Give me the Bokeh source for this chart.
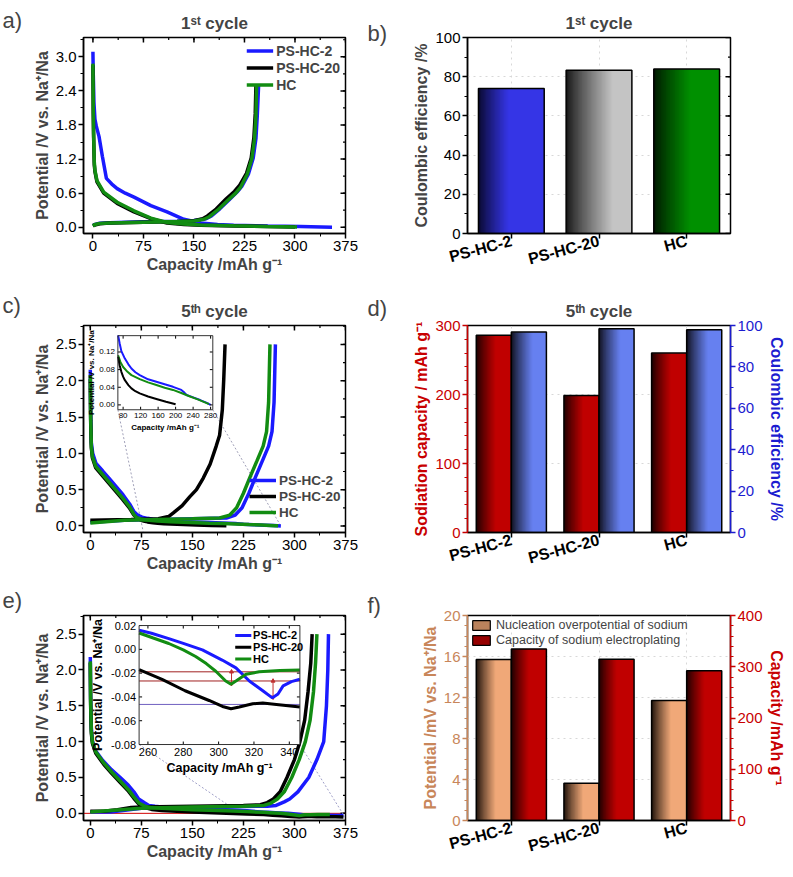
import numpy as np
from bokeh.plotting import figure
from bokeh.layouts import gridplot
from bokeh.models import (Range1d, LinearAxis, FixedTicker, SingleIntervalTicker, Label,
                          Legend, LegendItem, Span, PrintfTickFormatter)
from bokeh.core.properties import value
from bokeh.embed import file_html
from bokeh.resources import INLINE

FONT = "Liberation Sans"
BLUE = "#1a1aff"
BLACK = "#000000"
GREEN = "#128c12"

# ------------------------------------------------------------------ data
samples = ["PS-HC-2", "PS-HC-20", "HC"]
sample_pos = [1, 2, 3]

# a) 1st cycle curves
a_blue_dis_x = [0, 0.5, 1.5, 3, 5, 9, 14, 20, 28, 36, 48, 61, 86, 110, 135, 160, 185, 209, 260, 308, 355]
a_blue_dis_y = [3.09, 2.7, 2.2, 1.9, 1.78, 1.6, 1.25, 0.86, 0.76, 0.68, 0.6, 0.53, 0.38, 0.27, 0.14, 0.075, 0.05, 0.036, 0.022, 0.012, 0.002]
a_black_dis_x = [0, 0.5, 1, 2, 3, 6, 16, 36, 61, 86, 110, 135, 160, 209, 259, 300]
a_black_dis_y = [2.85, 2.0, 1.6, 1.1, 0.98, 0.8, 0.6, 0.42, 0.27, 0.15, 0.075, 0.05, 0.035, 0.024, 0.012, 0.005]
a_green_dis_x = [0, 0.5, 1, 2, 3, 6, 16, 36, 61, 86, 110, 135, 160, 209, 259, 303]
a_green_dis_y = [2.88, 2.1, 1.65, 1.15, 1.0, 0.82, 0.62, 0.44, 0.29, 0.16, 0.085, 0.055, 0.04, 0.026, 0.014, 0.006]
a_blue_ch_x = [0, 3, 10, 25, 75, 125, 150, 168, 176, 188, 202, 214, 221, 231, 238, 242, 244, 246]
a_blue_ch_y = [0.03, 0.05, 0.07, 0.08, 0.095, 0.105, 0.12, 0.15, 0.2, 0.32, 0.48, 0.62, 0.72, 0.94, 1.22, 1.56, 1.96, 2.5]
a_black_ch_x = [0, 10, 25, 75, 125, 150, 163, 170, 183, 198, 210, 218, 228, 235, 239, 241, 242]
a_black_ch_y = [0.03, 0.06, 0.075, 0.09, 0.1, 0.115, 0.15, 0.2, 0.32, 0.5, 0.63, 0.74, 0.95, 1.22, 1.58, 2.0, 2.5]
a_green_ch_x = [0, 3, 10, 25, 75, 125, 150, 165, 172, 185, 200, 212, 219, 229, 236, 240, 242, 243]
a_green_ch_y = [0.02, 0.05, 0.065, 0.075, 0.09, 0.1, 0.11, 0.14, 0.18, 0.3, 0.47, 0.6, 0.7, 0.93, 1.21, 1.56, 1.96, 2.5]

# b) 1st cycle coulombic efficiency (%)
b_ce = [74.0, 83.3, 83.9]

# c) 5th cycle curves (main part of discharge, then inset part)
c_blue_dis_x = [0, 0.5, 1.5, 3.5, 8.4, 18, 28, 38, 48, 58, 64]
c_blue_dis_y = [2.15, 1.6, 1.15, 1.0, 0.86, 0.76, 0.65, 0.54, 0.43, 0.3, 0.2]
c_green_dis_x = [0, 0.5, 1.5, 3, 8, 18, 28, 38, 48, 58, 64]
c_green_dis_y = [2.08, 1.5, 1.1, 0.96, 0.82, 0.71, 0.6, 0.49, 0.38, 0.26, 0.16]
c_black_dis_x = [0, 0.5, 1.5, 3, 8, 18, 28, 38, 48, 58, 64]
c_black_dis_y = [2.02, 1.45, 1.08, 0.94, 0.8, 0.69, 0.58, 0.47, 0.36, 0.24, 0.15]
ci_blue_x = [68.5, 72, 76, 84, 92, 99, 108, 118, 137, 156, 175, 194, 213, 220, 225, 240, 256, 270, 280]
ci_blue_y = [0.158, 0.14, 0.122, 0.105, 0.092, 0.0825, 0.074, 0.0675, 0.058, 0.0525, 0.047, 0.041, 0.034, 0.028, 0.0225, 0.017, 0.011, 0.005, 0.0]
ci_green_x = [68.5, 74, 80, 90, 99, 118, 137, 156, 175, 194, 213, 233, 252, 271, 276]
ci_green_y = [0.1125, 0.097, 0.086, 0.075, 0.0675, 0.0585, 0.051, 0.045, 0.039, 0.034, 0.027, 0.019, 0.012, 0.004, 0.002]
ci_black_x = [68.5, 72, 76, 80, 84, 92, 99, 108, 118, 137, 156, 178, 200]
ci_black_y = [0.109, 0.09, 0.075, 0.064, 0.056, 0.045, 0.0375, 0.031, 0.026, 0.019, 0.0135, 0.007, 0.0015]
c_blue_ch_x = [0, 50, 100, 150, 200, 213, 223, 233, 243, 253, 262, 267, 270, 272]
c_blue_ch_y = [0.05, 0.08, 0.09, 0.1, 0.11, 0.15, 0.25, 0.45, 0.68, 0.9, 1.1, 1.3, 1.7, 2.5]
c_green_ch_x = [0, 50, 100, 150, 190, 205, 215, 225, 235, 245, 254, 259, 262, 264]
c_green_ch_y = [0.04, 0.08, 0.09, 0.1, 0.11, 0.15, 0.25, 0.45, 0.68, 0.9, 1.1, 1.3, 1.7, 2.5]
c_black_ch_x = [0, 60, 100, 115, 122, 135, 146, 156, 166, 176, 185, 190, 194, 196, 198]
c_black_ch_y = [0.08, 0.09, 0.1, 0.13, 0.18, 0.28, 0.4, 0.5, 0.66, 0.85, 1.1, 1.25, 1.6, 2.0, 2.5]

# d) 5th cycle bars
d_capacity = [285.7, 198.6, 260.0]
d_ce = [96.8, 98.4, 97.9]

# e) sodium plating curves (main part, then inset part, then tail)
e_blue_dis_x = [0, 0.5, 1.5, 3, 6.4, 18, 31, 44, 56, 64, 71, 79, 86, 95, 105, 150, 200, 230]
e_blue_dis_y = [2.18, 1.6, 1.2, 1.02, 0.89, 0.74, 0.61, 0.5, 0.39, 0.3, 0.2, 0.15, 0.11, 0.1, 0.09, 0.07, 0.05, 0.035]
e_green_dis_x = [0, 0.5, 1.5, 3, 8, 20, 32, 44, 56, 64, 72, 80, 90, 105, 150, 200, 230]
e_green_dis_y = [2.12, 1.55, 1.15, 1.0, 0.86, 0.7, 0.57, 0.45, 0.33, 0.23, 0.14, 0.1, 0.08, 0.07, 0.05, 0.035, 0.025]
e_black_dis_x = [0, 0.5, 1.5, 3, 8, 20, 32, 44, 56, 64, 72, 80, 90, 105, 150, 200, 230]
e_black_dis_y = [2.1, 1.5, 1.12, 0.98, 0.84, 0.68, 0.55, 0.43, 0.31, 0.21, 0.12, 0.08, 0.055, 0.04, 0.02, 0.0, -0.008]
ei_blue_x = [255, 262, 271.8, 280, 290.8, 302, 309.8, 317.4, 325, 330.4, 333.6, 336.5, 341.2, 346]
ei_blue_y = [0.016, 0.0135, 0.009, 0.005, -0.0005, -0.009, -0.0156, -0.0266, -0.0348, -0.0408, -0.0375, -0.0307, -0.0271, -0.0252]
ei_green_x = [255, 263, 271.8, 280, 287, 293, 298.4, 304, 307, 309.8, 315.5, 323, 334.6, 346]
ei_green_y = [0.0137, 0.0095, 0.0049, -0.0005, -0.006, -0.012, -0.0184, -0.0266, -0.0293, -0.0266, -0.021, -0.0189, -0.0178, -0.0173]
ei_black_x = [255, 268, 281, 294.6, 302.2, 307, 311.7, 319.3, 325, 332.7, 346]
ei_black_y = [-0.017, -0.0252, -0.0348, -0.043, -0.048, -0.0499, -0.0485, -0.0458, -0.0452, -0.0463, -0.0485]
e_blue_tail_x = [360, 372]
e_blue_tail_y = [-0.029, -0.031]
e_green_tail_x = [352]
e_green_tail_y = [-0.0172]
e_black_tail_x = [360, 372]
e_black_tail_y = [-0.049, -0.05]
e_blue_ch_x = [0, 30, 75, 150, 225, 260, 273, 285, 293, 305, 321, 333, 343, 347, 349, 350]
e_blue_ch_y = [0.02, 0.02, 0.07, 0.085, 0.095, 0.1, 0.11, 0.16, 0.2, 0.3, 0.5, 0.75, 1.0, 1.5, 2.0, 2.5]
e_black_ch_x = [0, 20, 40, 60, 75, 150, 225, 250, 260, 269, 279, 289, 300, 308, 315, 320, 324, 326]
e_black_ch_y = [0.03, 0.03, 0.05, 0.08, 0.09, 0.1, 0.11, 0.12, 0.15, 0.2, 0.3, 0.5, 0.75, 1.0, 1.3, 1.7, 2.1, 2.5]
e_green_ch_x = [0, 75, 150, 225, 255, 265, 275, 285, 296, 307, 316, 323, 328, 331, 333]
e_green_ch_y = [0.02, 0.07, 0.09, 0.1, 0.11, 0.14, 0.2, 0.3, 0.5, 0.75, 1.0, 1.3, 1.7, 2.1, 2.5]
# nucleation-overpotential reference levels and minima in the e) inset
ei_levels = [-0.0189, -0.0266, -0.0463]
ei_level_colors = ["#a02020", "#a02020", "#7060c0"]
ei_arrow_x = [307.3, 330.8]
ei_arrow_top = [-0.0189, -0.0266]
ei_arrow_bottom = [-0.0288, -0.0403]

# f) bars
f_overpot = [15.7, 3.64, 11.7]
f_plating = [334.8, 314.6, 292.4]

# ------------------------------------------------------------------ helpers
def style_axes(p, fs="15px"):
    for ax in p.axis:
        ax.major_label_text_font = FONT
        ax.major_label_text_font_size = fs
        ax.major_label_text_color = "black"
        ax.axis_label_text_font = FONT
        ax.axis_label_text_font_size = "16px"
        ax.axis_label_text_font_style = "bold"
        ax.axis_line_width = 1.5
        ax.major_tick_line_width = 1.5
        ax.major_tick_out = 5
        ax.major_tick_in = 0
        ax.minor_tick_out = 3
        ax.minor_tick_in = 0
        ax.axis_label_standoff = 2
        ax.major_label_standoff = 2
    p.outline_line_color = "black"
    p.outline_line_width = 1.5


def mirror_ticks(p, xr, yr, xint, yint, xminor, yminor, y_range_name="default", top=True):
    xs = list(np.arange(0, xr[1] + 1e-9, xint)) if top else []
    xm = [v for v in np.arange(0, xr[1] + 1e-9, xint / xminor)] if top else []
    ys = list(np.arange(0, yr[1] + 1e-9, yint))
    ym = list(np.arange(0, yr[1] + 1e-9, yint / yminor))
    if top:
        p.ray(x=xm, y=[yr[1]] * len(xm), length=2.5, length_units="screen", angle=-np.pi / 2,
              line_color="black", line_width=1.2, y_range_name=y_range_name)
        p.ray(x=xs, y=[yr[1]] * len(xs), length=5, length_units="screen", angle=-np.pi / 2,
              line_color="black", line_width=1.5, y_range_name=y_range_name)
    p.ray(x=[xr[1]] * len(ym), y=ym, length=2.5, length_units="screen", angle=np.pi,
          line_color="black", line_width=1.2, y_range_name=y_range_name)
    p.ray(x=[xr[1]] * len(ys), y=ys, length=5, length_units="screen", angle=np.pi,
          line_color="black", line_width=1.5, y_range_name=y_range_name)


def panel_label(p, text, dx, dy):
    # placed in the left side panel so that it is not clipped to the frame
    p.add_layout(Label(x=p.x_range.start, y=p.y_range.end, x_offset=dx, y_offset=dy,
                       text=text, text_font=FONT, text_font_size="22px",
                       text_baseline="middle", text_align="left"), "left")


def title(p, text):
    p.title.text = text
    p.title.align = "center"
    p.title.text_font = FONT
    p.title.text_font_size = "17px"
    p.title.text_font_style = "bold"


def hex2rgb(h):
    return tuple(int(h[i:i + 2], 16) for i in (1, 3, 5))


def grad_image(c_dark, c_light, ramp, n=80):
    d = hex2rgb(c_dark)
    l = hex2rgb(c_light)
    img = np.empty((1, n), dtype=np.uint32)
    view = img.view(dtype=np.uint8).reshape((1, n, 4))
    for k in range(n):
        t = (k + 0.5) / n
        f = min(1.0, t / ramp) ** 0.85
        view[0, k, 0:3] = [int(round(a + (b - a) * f)) for a, b in zip(d, l)]
        view[0, k, 3] = 255
    return img


def mid_color(c_dark, c_light, f):
    d = hex2rgb(c_dark)
    l = hex2rgb(c_light)
    return "#%02x%02x%02x" % tuple(int(round(a + (b - a) * f)) for a, b in zip(d, l))


def grad_bars(p, xs, tops, width, c_dark, c_light, ramp, y_range_name="default"):
    img = grad_image(c_dark, c_light, ramp)
    p.image_rgba(image=[img] * len(xs), x=[x - width / 2 for x in xs], y=[0] * len(xs),
                 dw=[width] * len(xs), dh=tops, y_range_name=y_range_name)
    outline = p.vbar(x=xs, top=tops, bottom=0, width=width, fill_color=None,
                     line_color="black", line_width=1.5, y_range_name=y_range_name)
    swatch = p.vbar(x=xs, top=[0] * len(xs), bottom=0, width=width,
                    fill_color=mid_color(c_dark, c_light, 0.75), line_color="black",
                    line_width=1.2, y_range_name=y_range_name)
    return swatch, outline


def bar_fig(w, h, yr, borders):
    p = figure(width=w, height=h, x_range=Range1d(0.5, 3.5), y_range=Range1d(*yr),
               output_backend="svg", toolbar_location=None,
               min_border_left=borders[0], min_border_right=borders[1],
               min_border_top=borders[2], min_border_bottom=borders[3])
    p.xaxis.ticker = FixedTicker(ticks=sample_pos)
    p.xaxis.major_label_overrides = {x: s for x, s in zip(sample_pos, samples)}
    p.xaxis.major_label_orientation = 0.26
    p.xgrid.grid_line_color = "#d8d8d8"
    p.xgrid.grid_line_dash = "dotted"
    p.ygrid.grid_line_color = "#d8d8d8"
    p.ygrid.grid_line_dash = "dotted"
    return p


def curve_fig(w, h, xr, yr, yint, borders):
    p = figure(width=w, height=h, x_range=Range1d(*xr), y_range=Range1d(*yr),
               output_backend="svg", toolbar_location=None,
               min_border_left=borders[0], min_border_right=borders[1],
               min_border_top=borders[2], min_border_bottom=borders[3])
    p.xaxis.ticker = SingleIntervalTicker(interval=75, num_minor_ticks=2)
    p.yaxis.ticker = SingleIntervalTicker(interval=yint, num_minor_ticks=2)
    p.yaxis.formatter = PrintfTickFormatter(format="%.1f")
    p.xgrid.visible = False
    p.ygrid.visible = False
    p.xaxis.axis_label = "Capacity /mAh g\u207b\u00b9"
    p.yaxis.axis_label = "Potential /V vs. Na\u207a/Na"
    mirror_ticks(p, xr, yr, 75, yint, 2, 2)
    return p


def add_inset(p, xsrc, ysrc, xtgt, ytgt, xticks, yticks, xfmt, yfmt, tick_fs, lab_fs,
              series, lw, ylab_off, xlab_off, extra=None):
    p.quad(left=[xtgt[0]], right=[xtgt[1]], bottom=[ytgt[0]], top=[ytgt[1]],
           fill_color="white", line_color=None)
    sub = p.subplot(x_source=Range1d(*xsrc), y_source=Range1d(*ysrc),
                    x_target=Range1d(*xtgt), y_target=Range1d(*ytgt))
    if extra is not None:
        extra(sub)
    rends = [sub.line(x, y, line_color=c, line_width=lw) for x, y, c in series]
    nx, ny = len(xticks), len(yticks)
    sub.ray(x=xticks, y=[ysrc[0]] * nx, length=3, length_units="screen", angle=np.pi / 2, line_color="black")
    sub.ray(x=xticks, y=[ysrc[1]] * nx, length=3, length_units="screen", angle=-np.pi / 2, line_color="black")
    sub.ray(x=[xsrc[0]] * ny, y=yticks, length=3, length_units="screen", angle=0, line_color="black")
    sub.ray(x=[xsrc[1]] * ny, y=yticks, length=3, length_units="screen", angle=np.pi, line_color="black")
    sub.text(x=xticks, y=[ysrc[0]] * nx, text=[xfmt.format(v) for v in xticks], y_offset=3,
             text_align="center", text_baseline="top", text_font=value(FONT),
             text_font_size=tick_fs, text_color="black")
    sub.text(x=[xsrc[0]] * ny, y=yticks, text=[yfmt.format(v) for v in yticks], x_offset=-3,
             text_align="right", text_baseline="middle", text_font=value(FONT),
             text_font_size=tick_fs, text_color="black")
    sub.text(x=[(xsrc[0] + xsrc[1]) / 2], y=[ysrc[0]], text=["Capacity /mAh g\u207b\u00b9"],
             y_offset=xlab_off, text_align="center", text_baseline="top", text_font=value(FONT),
             text_font_size=lab_fs, text_font_style="bold", text_color="black")
    sub.text(x=[xsrc[0]], y=[(ysrc[0] + ysrc[1]) / 2], text=["Potential /V vs. Na\u207a/Na"],
             x_offset=-ylab_off, angle=np.pi / 2, text_align="center", text_baseline="bottom",
             text_font=value(FONT), text_font_size=lab_fs, text_font_style="bold", text_color="black")
    p.quad(left=[xtgt[0]], right=[xtgt[1]], bottom=[ytgt[0]], top=[ytgt[1]],
           fill_color=None, line_color="#333333", line_width=1)
    return sub, rends


def curve_legend(p, rends, loc, fs, gw, gh, margin=0, labels=("PS-HC-2", "PS-HC-20", "HC")):
    items = [LegendItem(label=t, renderers=[r]) for t, r in zip(labels, rends)]
    lg = Legend(items=items, location=loc, border_line_color=None, background_fill_alpha=0,
                label_text_font=FONT, label_text_font_size=fs, label_text_font_style="bold",
                glyph_width=gw, glyph_height=gh, label_height=gh, spacing=0, padding=2,
                margin=margin, label_standoff=3)
    p.add_layout(lg)
    return lg


W1, W2 = 365, 427
H1, H2, H3 = 290, 298, 288
LEFT_L, LEFT_R = 83, 20
RIGHT_L, RIGHT_R = 102, 62

# ------------------------------------------------------------------ a)
a_xr, a_yr = (-14, 375), (-0.11, 3.34)
pa = curve_fig(W1, H1, a_xr, a_yr, 0.6, (LEFT_L, LEFT_R, 37, 53))
title(pa, "1\u02e2\u1d57 cycle")
ra = []
for xd, yd, xc, yc, col in [(a_blue_dis_x, a_blue_dis_y, a_blue_ch_x, a_blue_ch_y, BLUE),
                            (a_black_dis_x, a_black_dis_y, a_black_ch_x, a_black_ch_y, BLACK),
                            (a_green_dis_x, a_green_dis_y, a_green_ch_x, a_green_ch_y, GREEN)]:
    r = pa.line(xd, yd, line_color=col, line_width=3.5)
    pa.line(xc, yc, line_color=col, line_width=3.5)
    ra.append(r)
style_axes(pa)
curve_legend(pa, ra, "top_right", "14px", 27, 17, margin=5)
panel_label(pa, "a)", -LEFT_L + 2, 17)

# ------------------------------------------------------------------ b)
pb = bar_fig(W2, H1, (0, 100), (RIGHT_L, RIGHT_R, 24, 57))
title(pb, "1\u02e2\u1d57 cycle")
pb.yaxis.ticker = SingleIntervalTicker(interval=20, num_minor_ticks=2)
pb.yaxis.axis_label = "Coulombic efficiency /%"
grad_bars(pb, [sample_pos[0]], [b_ce[0]], 0.75, "#08082a", "#3535e6", 0.45)
grad_bars(pb, [sample_pos[1]], [b_ce[1]], 0.75, "#141414", "#c4c4c4", 0.7)
grad_bars(pb, [sample_pos[2]], [b_ce[2]], 0.75, "#001400", "#009000", 0.55)
mirror_ticks(pb, (0.5, 3.5), (0, 100), 1, 20, 1, 2, top=False)
style_axes(pb)
pb.xaxis.major_label_text_font_style = "bold"
pb.xaxis.major_label_text_font_size = "16px"
panel_label(pb, "b)", -RIGHT_L + 2, 4)

# ------------------------------------------------------------------ c)
c_xr, c_yr = (-10, 375), (-0.09, 2.76)
pc = curve_fig(W1, H2, c_xr, c_yr, 0.5, (LEFT_L, LEFT_R, 35, 53))
title(pc, "5\u1d57\u02b0 cycle")
c_inset_src_x, c_inset_src_y = (68, 285), (-0.011, 0.157)
c_inset_tgt_x, c_inset_tgt_y = (40.5, 180), (1.60, 2.62)
pc.segment(x0=[c_inset_tgt_x[0], c_inset_tgt_x[1]], y0=[c_inset_tgt_y[0]] * 2,
           x1=[78, 280], y1=[-0.09, 0.0], line_color="#a0a0b8", line_dash="2 2", line_width=1)
rc = []
for xd, yd, xi, yi, xc, yc, col in [
        (c_blue_dis_x, c_blue_dis_y, ci_blue_x, ci_blue_y, c_blue_ch_x, c_blue_ch_y, BLUE),
        (c_black_dis_x, c_black_dis_y, ci_black_x, ci_black_y, c_black_ch_x, c_black_ch_y, BLACK),
        (c_green_dis_x, c_green_dis_y, ci_green_x, ci_green_y, c_green_ch_x, c_green_ch_y, GREEN)]:
    pc.line(xd + xi, yd + yi, line_color=col, line_width=3.5)
    r = pc.line(xc, yc, line_color=col, line_width=3.5)
    rc.append(r)
add_inset(pc, c_inset_src_x, c_inset_src_y, c_inset_tgt_x, c_inset_tgt_y,
          [80, 120, 160, 200, 240, 280], [0.0, 0.04, 0.08, 0.12], "{:.0f}", "{:.2f}",
          "8px", "8px",
          [(ci_blue_x, ci_blue_y, BLUE), (ci_green_x, ci_green_y, GREEN), (ci_black_x, ci_black_y, BLACK)],
          2, 22, 13)
style_axes(pc)
curve_legend(pc, rc, (166, 12), "13.5px", 27, 16)
panel_label(pc, "c)", -LEFT_L + 2, 20)

# ------------------------------------------------------------------ d)
pd_ = bar_fig(W2, H2, (0, 300), (RIGHT_L, RIGHT_R, 32, 56))
title(pd_, "5\u1d57\u02b0 cycle")
pd_.extra_y_ranges = {"ce": Range1d(0, 100)}
pd_.yaxis.ticker = SingleIntervalTicker(interval=100, num_minor_ticks=5)
pd_.yaxis.axis_label = "Sodiation capacity / mAh g\u207b\u00b9"
grad_bars(pd_, [x - 0.2 for x in sample_pos], d_capacity, 0.4, "#1a0000", "#c00000", 0.55)
grad_bars(pd_, [x + 0.2 for x in sample_pos], d_ce, 0.4, "#10101c", "#6680f0", 0.6, y_range_name="ce")
ax_ce = LinearAxis(y_range_name="ce", ticker=SingleIntervalTicker(interval=20, num_minor_ticks=2),
                   axis_label="Coulombic efficiency /%")
pd_.add_layout(ax_ce, "right")
style_axes(pd_)
for prop in ("axis_line_color", "major_tick_line_color", "minor_tick_line_color",
             "major_label_text_color", "axis_label_text_color"):
    setattr(pd_.yaxis[0], prop, "#c80000")
    setattr(ax_ce, prop, "#1c1cd0")
pd_.xaxis.major_label_text_font_style = "bold"
pd_.xaxis.major_label_text_font_size = "16px"
panel_label(pd_, "d)", -RIGHT_L + 2, 17)

# ------------------------------------------------------------------ e)
e_xr, e_yr = (-10, 375), (-0.1, 2.76)
pe = curve_fig(W1, H3, e_xr, e_yr, 0.5, (LEFT_L, LEFT_R, 27, 54))
pe.add_layout(Span(location=0, dimension="width", line_color="#d00000", line_width=1, level="underlay"))
e_inset_src_x, e_inset_src_y = (255, 346), (-0.08, 0.02)
e_inset_tgt_x, e_inset_tgt_y = (71.7, 308), (0.96, 2.62)
pe.segment(x0=[e_inset_tgt_x[0], e_inset_tgt_x[1]], y0=[e_inset_tgt_y[0]] * 2,
           x1=[205, 374], y1=[0.1, -0.05], line_color="#a0a0c8", line_dash="2 2", line_width=1)
for xd, yd, xi, yi, xt, yt, xc, yc, col in [
        (e_blue_dis_x, e_blue_dis_y, ei_blue_x, ei_blue_y, e_blue_tail_x, e_blue_tail_y, e_blue_ch_x, e_blue_ch_y, BLUE),
        (e_black_dis_x, e_black_dis_y, ei_black_x, ei_black_y, e_black_tail_x, e_black_tail_y, e_black_ch_x, e_black_ch_y, BLACK),
        (e_green_dis_x, e_green_dis_y, ei_green_x, ei_green_y, e_green_tail_x, e_green_tail_y, e_green_ch_x, e_green_ch_y, GREEN)]:
    pe.line(xd + xi + xt, yd + yi + yt, line_color=col, line_width=3.5)
    pe.line(xc, yc, line_color=col, line_width=3.5)


def e_extra(sub):
    n = len(ei_levels)
    sub.segment(x0=[e_inset_src_x[0]] * n, x1=[e_inset_src_x[1]] * n, y0=ei_levels, y1=ei_levels,
                line_color=ei_level_colors, line_width=1)
    sub.segment(x0=ei_arrow_x, x1=ei_arrow_x, y0=ei_arrow_top, y1=ei_arrow_bottom,
                line_color="#c03030", line_width=1)
    sub.scatter(x=ei_arrow_x, y=ei_arrow_top, marker="triangle", size=4, color="#c03030")
    sub.scatter(x=ei_arrow_x, y=ei_arrow_bottom, marker="inverted_triangle", size=4, color="#c03030")


sub_e, re_ = add_inset(pe, e_inset_src_x, e_inset_src_y, e_inset_tgt_x, e_inset_tgt_y,
                       [260, 280, 300, 320, 340], [-0.08, -0.06, -0.04, -0.02, 0.0, 0.02],
                       "{:.0f}", "{:.2f}", "11px", "12.5px",
                       [(ei_blue_x, ei_blue_y, BLUE), (ei_black_x, ei_black_y, BLACK),
                        (ei_green_x, ei_green_y, GREEN)],
                       3, 34, 16, extra=e_extra)
# legend of the inset (drawn in the inset's own coordinates)
e_leg_labels = ["PS-HC-2", "PS-HC-20", "HC"]
e_leg_colors = [BLUE, BLACK, GREEN]
e_leg_y = [0.0117, 0.0018, -0.0081]
sub_e.segment(x0=[309.4] * 3, x1=[318.5] * 3, y0=e_leg_y, y1=e_leg_y, line_color=e_leg_colors, line_width=3)
sub_e.text(x=[319.5] * 3, y=e_leg_y, text=e_leg_labels, text_baseline="middle", text_align="left",
           text_font=value(FONT), text_font_size="11px", text_font_style="bold", text_color="black")
style_axes(pe)
panel_label(pe, "e)", -LEFT_L + 2, 15)

# ------------------------------------------------------------------ f)
pf = bar_fig(W2, H3, (0, 20), (RIGHT_L, RIGHT_R, 22, 56))
pf.extra_y_ranges = {"cap": Range1d(0, 400)}
pf.yaxis.ticker = SingleIntervalTicker(interval=4, num_minor_ticks=4)
pf.yaxis.axis_label = "Potential /mV vs. Na\u207a/Na"
s1, o1 = grad_bars(pf, [x - 0.2 for x in sample_pos], f_overpot, 0.4, "#1a0f08", "#f0a878", 0.55)
s2, o2 = grad_bars(pf, [x + 0.2 for x in sample_pos], f_plating, 0.4, "#1a0000", "#c00000", 0.5,
                   y_range_name="cap")
ax_cap = LinearAxis(y_range_name="cap", ticker=SingleIntervalTicker(interval=100, num_minor_ticks=5),
                    axis_label="Capacity /mAh g\u207b\u00b9")
pf.add_layout(ax_cap, "right")
style_axes(pf)
for prop in ("axis_line_color", "major_tick_line_color", "minor_tick_line_color",
             "major_label_text_color", "axis_label_text_color"):
    setattr(pf.yaxis[0], prop, "#c8865a")
    setattr(ax_cap, prop, "#c80000")
pf.xaxis.major_label_text_font_style = "bold"
pf.xaxis.major_label_text_font_size = "16px"
lf = Legend(items=[LegendItem(label="Nucleation overpotential of sodium", renderers=[s1]),
                   LegendItem(label="Capacity of sodium electroplating", renderers=[s2])],
            location="top_left", border_line_color=None, background_fill_alpha=0,
            label_text_font=FONT, label_text_font_size="12.5px", glyph_width=22, glyph_height=12,
            label_height=13, spacing=1, padding=2, margin=3, label_standoff=4)
pf.add_layout(lf)
panel_label(pf, "f)", -RIGHT_L + 2, 10)

grid = gridplot([[pa, pb], [pc, pd_], [pe, pf]], toolbar_location=None)
open("out.html", "w").write(file_html(grid, INLINE))
